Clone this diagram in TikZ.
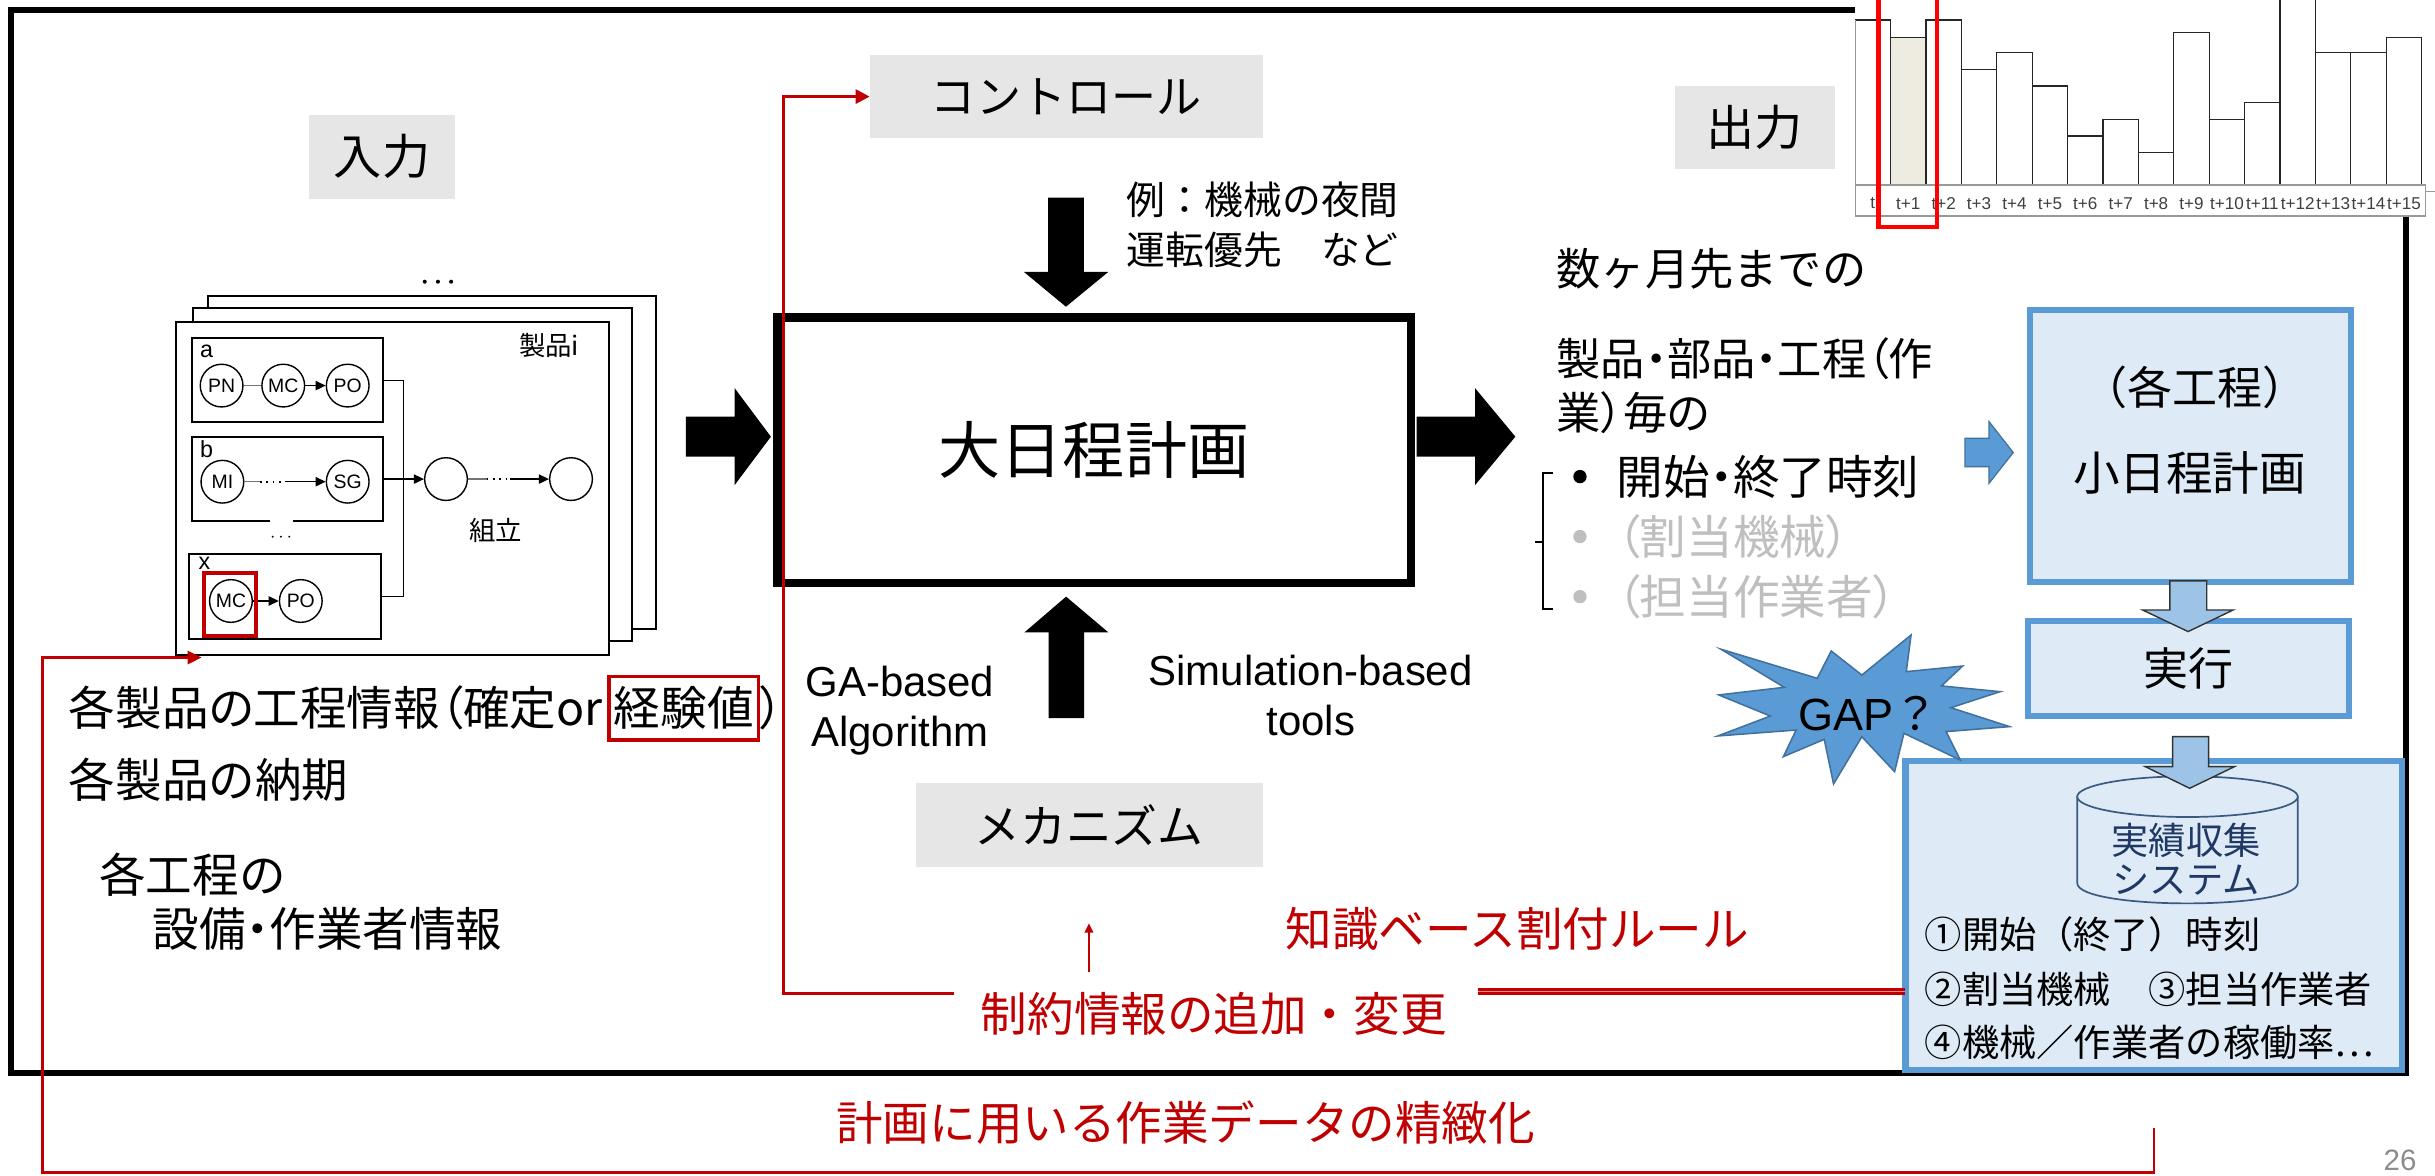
\documentclass[tikz,border=0pt]{standalone}
\usepackage{fontspec}
\setmainfont{Liberation Sans}
\newfontfamily\jp{Noto Sans CJK JP}
\newfontfamily\jpp{Noto Sans CJK JP}[RawFeature=+palt]
\usetikzlibrary{arrows.meta,calc}
\definecolor{frameblue}{HTML}{5B9BD5}
\definecolor{lightblue}{HTML}{DEEBF7}
\definecolor{arrowblue}{HTML}{9DC3E6}
\definecolor{darkred}{HTML}{C00000}
\definecolor{labelgray}{HTML}{E6E6E6}
\definecolor{bulletgray}{HTML}{BFBFBF}
\definecolor{navy}{HTML}{1F3864}
\definecolor{beige}{HTML}{EEECE1}
\definecolor{pagegray}{HTML}{8C8C8C}
\definecolor{starline}{HTML}{41719C}
\definecolor{cylline}{HTML}{3A5A80}
\newcommand{\fsz}[2]{\fontsize{#1pt}{#2pt}\selectfont}
\tikzset{
 txt/.style={inner sep=0pt, outer sep=0pt},
 graylabel/.style={fill=labelgray, inner sep=0pt, outer sep=0pt},
 bluebox/.style={draw=frameblue, fill=lightblue, line width=3.9pt, inner sep=0pt, outer sep=0pt},
 proc/.style={circle, draw, line width=0.9pt, minimum size=27.5pt, inner sep=0pt, fill=white, font={\fsz{12.5}{14}}},
 sheet/.style={draw, fill=white, line width=1.2pt, inner sep=0pt},
 redline/.style={draw=darkred, line width=1.8pt},
 flow/.style={line width=0.8pt, -{Triangle[length=6.5pt,width=6pt]}},
 bluearrow/.style={fill=arrowblue, draw=black!80, line width=0.9pt},
 jpbig/.style={font={\jp\fsz{30}{36}}},
}
\begin{document}
\begin{tikzpicture}[x=1pt,y=-1pt]
\useasboundingbox (0,0) rectangle (1568,757);
\fill[white] (0,0) rectangle (1568,757);

% outer frame
\draw[line width=4pt] (7.3,6.5) rectangle (1549.3,691);

% chart (top right)
\fill[white] (1194.5,-3) rectangle (1570,139.5);
\foreach \bt [count=\i from 0] in {12.9,24.0,12.9,44.6,33.9,55.4,87.6,76.8,98.3,20.8,76.8,66.1,-4,33.9,33.9,24.0} {
  \pgfmathsetmacro\xa{1194.6+22.8*\i}
  \pgfmathsetmacro\xb{\xa+22.8}
  \draw[line width=0.8pt, draw=black!85, fill=white] (\xa,\bt) rectangle (\xb,119.1);
}
\draw[line width=0.8pt, draw=black!85, fill=beige] (1217.4,24.0) rectangle (1240.2,119.1);
\draw[black!40, line width=0.8pt] (1194.6,12.9) -- (1194.6,139.1) -- (1562,139.1) -- (1562,119.1) -- (1194.6,119.1);
\draw[black!40, line width=0.8pt] (1562,123.4) -- (1568,123.4);
\foreach \lab [count=\i from 0] in {t,t+1,t+2,t+3,t+4,t+5,t+6,t+7,t+8,t+9,t+10,t+11,t+12,t+13,t+14,t+15} {
  \node[txt, font={\fsz{11}{13}}, text=black!75] (lab\i) at ({1194.6+22.8*\i+11.4},131) {\lab};
}
\draw[red, line width=3pt] (1209.5,-5) rectangle (1247.3,146.1);

% gray labels
\node[graylabel, minimum width=94.2pt, minimum height=54.1pt, font={\jp\fsz{31}{36}}] (nyuryoku) at (246,101) {入力};
\node[graylabel, minimum width=253pt, minimum height=53.6pt, font={\jp\fsz{29}{34}}] (ctrl) at (686.5,62.2) {コントロール};
\node[graylabel, minimum width=223.5pt, minimum height=53.6pt, font={\jp\fsz{29.5}{34}}] (mecha) at (701.3,531.2) {メカニズム};
\node[graylabel, minimum width=102.7pt, minimum height=53.6pt, font={\jp\fsz{31}{36}}] (shutsu) at (1130,82.2) {出力};

% product stack
\fill (273.5,181.4) circle (1.3pt);
\fill (282,181.4) circle (1.3pt);
\fill (290.5,181.4) circle (1.3pt);
\draw[sheet] (134.1,190.6) rectangle (422.4,405.2);
\draw[sheet] (124.5,198.5) rectangle (407.2,412.7);
\node[sheet, minimum width=279.2pt, minimum height=214.7pt] (prod) at (252.7,314.45) {};
\node[txt, font={\jp\fsz{17}{20}}] (seihin) at (353.6,222.2) {製品i};
\node[draw, line width=1.2pt, minimum width=123.4pt, minimum height=54pt, inner sep=0pt] (boxa) at (185.1,244.9) {};
\node[minimum width=123.4pt, minimum height=54.1pt, inner sep=0pt, outer sep=0pt] (boxb) at (185.1,308.5) {};
\draw[line width=1.2pt] ($(boxb.south)+(-11.2,0)$) -- (boxb.south west) -- (boxb.north west) -- (boxb.north east) -- (boxb.south east) -- ($(boxb.south)+(3.8,0)$);
\node[draw, line width=1.2pt, minimum width=123.4pt, minimum height=54.5pt, inner sep=0pt] (boxx) at (183.6,384.25) {};
\node[txt, font={\fsz{15}{18}}] (la) at (133.1,226.4) {a};
\node[txt, font={\fsz{15}{18}}] (lb) at (133,289.2) {b};
\node[txt, font={\fsz{15}{18}}] (lx) at (131.6,362.7) {x};
\fill (175.6,345.6) circle (0.7pt);
\fill (180.9,345.6) circle (0.7pt);
\fill (186.3,345.6) circle (0.7pt);
\node[proc] (pn) at (142.7,248.3) {PN};
\node[proc] (mca) at (182.4,248.3) {MC};
\node[proc] (poa) at (223.9,248.3) {PO};
\draw[line width=0.8pt, black!55] (pn) -- (mca);
\draw[flow] (mca) -- (poa);
\node[proc] (mi) at (143.2,310.2) {MI};
\node[proc] (sg) at (223.9,310.2) {SG};
\coordinate (mi1) at (167.4,310.2);
\coordinate (mi2) at (183.5,310.2);
\draw[line width=0.8pt, black!55] (mi) -- (mi1);
\draw[line width=1.1pt, dash pattern=on 1.1pt off 3pt] (mi1) -- (mi2);
\draw[flow] (mi2) -- (sg);
\node[proc] (mcx) at (148.7,387) {MC};
\node[proc] (pox) at (193.7,387) {PO};
\draw[flow] (mcx) -- (pox);
\node[proc] (asm1) at (287.2,308.5) {};
\node[proc] (asm2) at (367.7,308.5) {};
\coordinate (as1) at (313.3,308.5);
\coordinate (as2) at (328.3,308.5);
\draw[line width=0.8pt, black!55] (asm1) -- (as1);
\draw[line width=1.1pt, dash pattern=on 1.1pt off 3pt] (as1) -- (as2);
\draw[flow] (as2) -- (asm2);
\coordinate (jn) at (259.7,308.5);
\draw[line width=1pt] (boxa.east) -| (jn) |- (boxx.east);
\draw[flow] (boxb.east) -- (asm1);
\node[txt, font={\jp\fsz{17}{20}}] (kumitate) at (319.3,341.8) {組立};
\draw[darkred, line width=2.6pt] (131.2,369) rectangle (164.6,409.3);

% main plan box and arrows
\node[draw, line width=5.5pt, fill=white, minimum width=408pt, minimum height=171pt, inner sep=0pt, font={\jp\fsz{40}{48}}] (dai) at (704.5,290) {大日程計画};
\fill (441.7,268.3) -- (473.1,268.3) -- (473.1,250) -- (496.4,281.2) -- (473.1,312.3) -- (473.1,294.1) -- (441.7,294.1) -- cycle;
\fill (912.2,268.3) -- (949.9,268.3) -- (949.9,250) -- (975.8,281.2) -- (949.9,312.3) -- (949.9,294.1) -- (912.2,294.1) -- cycle;
\fill (675,127.3) -- (698,127.3) -- (698,175) -- (713.8,175) -- (686.4,197.5) -- (659.2,175) -- (675,175) -- cycle;
\fill (675.3,462.5) -- (698.1,462.5) -- (698.1,407.2) -- (713.7,407.2) -- (686.5,384.2) -- (659.7,407.2) -- (675.3,407.2) -- cycle;

% texts left
\node[txt, anchor=west, font={\jp\fsz{25}{30}}] (rei1) at (725.7,128.8) {例：機械の夜間};
\node[txt, anchor=west, font={\jp\fsz{25}{30}}] (rei2) at (725.7,161) {運転優先　など};
\node[txt, anchor=west, font={\jpp\fsz{30}{36}}] (in1) at (44.4,456) {各製品の工程情報（確定or};
\node[draw=darkred, line width=2.4pt, anchor=west, inner xsep=3pt, minimum height=40.6pt, font={\jp\fsz{30}{36}}] (keiken) at ($(in1.east)+(3,0)$) {経験値};
\node[txt, anchor=west, font={\jpp\fsz{30}{36}}] (in1b) at (keiken.east) {）};
\node[txt, anchor=west, jpbig] (in2) at (44.4,502) {各製品の納期};
\node[txt, anchor=west, jpbig] (in3) at (64,563) {各工程の};
\node[txt, anchor=west, font={\jpp\fsz{30}{36}}] (in4) at (98.5,598) {設備・作業者情報};

% mechanism texts
\node[txt, anchor=base, font={\fsz{27}{32}}] (ga1) at (579.5,448.6) {GA-based};
\node[txt, anchor=base, font={\fsz{27}{32}}] (ga2) at (579.5,480.8) {Algorithm};
\node[txt, anchor=base, font={\fsz{27}{32}}] (sim1) at (844,441.1) {Simulation-based};
\node[txt, anchor=base, font={\fsz{27}{32}}] (sim2) at (844,473.7) {tools};

% output texts
\node[txt, anchor=west, font={\jp\fsz{28.5}{34}}] (out1) at (1002.4,173.3) {数ヶ月先までの};
\node[txt, anchor=west, font={\jpp\fsz{28.5}{34}}] (out2) at (1002.4,230.7) {製品・部品・工程（作};
\node[txt, anchor=west, font={\jpp\fsz{28.5}{34}}] (out3) at (1002.4,265.6) {業）毎の};
\node[circle, fill=black, minimum size=8.6pt, inner sep=0pt] (bul1) at (1017.4,306.9) {};
\node[circle, fill=bulletgray, minimum size=8.6pt, inner sep=0pt] (bul2) at (1017.4,345.5) {};
\node[circle, fill=bulletgray, minimum size=8.6pt, inner sep=0pt] (bul3) at (1017.4,384.2) {};
\node[txt, anchor=west, font={\jpp\fsz{30}{36}}] (it1) at (1041,307) {開始・終了時刻};
\node[txt, anchor=west, text=bulletgray, font={\jpp\fsz{30}{36}}] (it2) at (1041,345.5) {（割当機械）};
\node[txt, anchor=west, text=bulletgray, font={\jpp\fsz{30}{36}}] (it3) at (1041,384.2) {（担当作業者）};
\draw[line width=1.4pt] (1000.2,304.4) -- (993.8,304.4) -- (993.8,392.4) -- (1000.2,392.4);
\draw[line width=1.4pt] (993.8,348.8) -- (988.4,348.8);

% right column
\filldraw[fill=frameblue, draw=starline, line width=0.8pt] (1265.3,282.2) -- (1280.8,282.2) -- (1280.8,271.5) -- (1296.4,291.4) -- (1280.8,311.2) -- (1280.8,300.5) -- (1265.3,300.5) -- cycle;
\node[bluebox, minimum width=206.6pt, minimum height=174.8pt] (sbox) at (1410.7,287.3) {};
\node[txt, font={\jp\fsz{29}{34}}] (kakukotei) at (1413.4,249.4) {（各工程）};
\node[txt, font={\jp\fsz{30}{36}}] (shonittei) at (1410,304.8) {小日程計画};
\node[bluebox, minimum width=206.4pt, minimum height=61.3pt, font={\jp\fsz{29}{34}}] (jikko) at (1409.1,430.3) {実行};
\filldraw[bluearrow] (1397.3,374) -- (1421,374) -- (1421,392.8) -- (1438,392.8) -- (1409,406.7) -- (1379.7,392.8) -- (1397.3,392.8) -- cycle;
\node[bluebox, minimum width=320pt, minimum height=198.8pt] (jbox) at (1387,589.7) {};
\filldraw[fill=lightblue, draw=cylline, line width=1.1pt] (1337.6,513) -- (1337.6,568.6) .. controls (1337.6,586.1) and (1479.6,586.1) .. (1479.6,568.6) -- (1479.6,513) -- cycle;
\filldraw[fill=lightblue, draw=cylline, line width=1.1pt] (1408.6,513) ellipse [x radius=71pt, y radius=13.1pt];
\node[txt, text=navy, font={\jp\fsz{24}{28}}] (js1) at (1407.8,541.4) {実績収集};
\node[txt, text=navy, font={\jp\fsz{24}{28}}] (js2) at (1407.8,567) {システム};
\filldraw[bluearrow] (1399,474.3) -- (1422.2,474.3) -- (1422.2,493.7) -- (1438.8,493.7) -- (1410,507.6) -- (1381.5,493.7) -- (1399,493.7) -- cycle;
\node[txt, anchor=west, font={\jp\fsz{24}{28}}] (r1) at (1239.5,601.5) {①開始（終了）時刻};
\node[txt, anchor=west, font={\jp\fsz{24}{28}}] (r2) at (1239.5,637) {②割当機械　③担当作業者};
\node[txt, anchor=west, font={\jp\fsz{24}{28}}] (r3) at (1239.5,671.3) {④機械／作業者の稼働率⋯};

% GAP star
\filldraw[fill=frameblue, draw=starline, line width=1pt] (1108.3,418.1) -- (1170.2,436.8) -- (1179.2,419.2) -- (1198.9,434.7) -- (1230.6,408.9) -- (1227.5,432.5) -- (1263.8,428.9) -- (1250.2,441.7) -- (1287.9,445.4) -- (1256.2,455.7) -- (1294,467.9) -- (1253.2,471.1) -- (1262.3,489.4) -- (1226,472.2) -- (1220,496.9) -- (1198.9,474.4) -- (1180.7,504.8) -- (1174.7,476.1) -- (1148.4,487.2) -- (1156.6,470.1) -- (1106.2,473.9) -- (1140,461.1) -- (1106.8,447.5) -- (1149,442.6) -- cycle;
\node[txt, font={\fsz{29}{34}}] (gap) at (1203.4,459.3) {GAP{\jp ？}};

% red feedback paths and texts
\node[txt, text=darkred, font={\jp\fsz{30}{36}}] (chishiki) at (977,598.3) {知識ベース割付ルール};
\node[txt, text=darkred, font={\jp\fsz{30}{36}}] (seiyaku) at (781.6,653) {制約情報の追加・変更};
\node[txt, text=darkred, font={\jp\fsz{30}{36}}] (seichi) at (763.5,723.2) {計画に用いる作業データの精緻化};
\coordinate (rA) at (614.4,640);
\coordinate (cA) at (504.6,640);
\draw[redline, -{Triangle[length=9pt,width=9pt]}] (rA) -- (cA) |- (ctrl.west);
\coordinate (upS) at (701.2,625.7);
\coordinate (upE) at (701.2,594.5);
\draw[draw=darkred, line width=1.3pt, -{Triangle[length=6pt,width=5.5pt]}] (upS) -- (upE);
\coordinate (dlS) at (951.7,638.3);
\draw[draw=darkred, line width=1.7pt, double=white!55!darkred, double distance=0.9pt] (dlS) -- (dlS -| jbox.west);
\coordinate (bR) at (1387,726.5);
\coordinate (bC1) at (1387,755);
\coordinate (bC2) at (27.3,755);
\coordinate (bTip) at (129.8,423.4);
\draw[draw=darkred, line width=1.6pt, -{Triangle[length=9pt,width=8.5pt]}] (bR) -- (bC1) -- (bC2) |- (bTip);

% page number
\node[txt, text=pagegray, font={\fsz{19}{22}}] (page) at (1545.5,747.5) {26};
\end{tikzpicture}
\end{document}
